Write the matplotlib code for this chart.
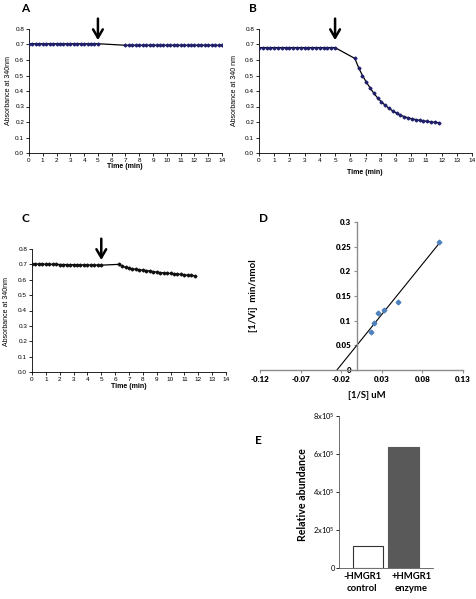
import numpy as np
import matplotlib
matplotlib.use("Agg")
import matplotlib.pyplot as plt
import matplotlib.transforms as mtransforms

W, H = 477, 599

# ---- data ----
t_pre = [0.0, 0.25, 0.5, 0.75, 1.0, 1.25, 1.5, 1.75, 2.0, 2.25, 2.5, 2.75,
         3.0, 3.25, 3.5, 3.75, 4.0, 4.25, 4.5, 4.75, 5.0]

# panel A
a_pre = [0.705, 0.705, 0.705, 0.705, 0.705, 0.705, 0.705, 0.705, 0.705, 0.705, 0.705,
         0.705, 0.705, 0.705, 0.705, 0.705, 0.705, 0.705, 0.705, 0.705, 0.705]
a_t_post = [7.0, 7.25, 7.5, 7.75, 8.0, 8.25, 8.5, 8.75, 9.0, 9.25, 9.5, 9.75, 10.0,
            10.25, 10.5, 10.75, 11.0, 11.25, 11.5, 11.75, 12.0, 12.25, 12.5, 12.75,
            13.0, 13.25, 13.5, 13.75, 14.0]
a_post = [0.695, 0.695, 0.695, 0.695, 0.695, 0.695, 0.695, 0.695, 0.695, 0.695,
          0.695, 0.695, 0.695, 0.695, 0.695, 0.695, 0.695, 0.695, 0.695, 0.695,
          0.695, 0.695, 0.695, 0.695, 0.695, 0.695, 0.695, 0.695, 0.695]

# panel B
b_pre = [0.68, 0.68, 0.68, 0.68, 0.68, 0.68, 0.68, 0.68, 0.68, 0.68, 0.68,
         0.68, 0.68, 0.68, 0.68, 0.68, 0.68, 0.68, 0.68, 0.68, 0.68]
b_t_post = [6.3, 6.55, 6.8, 7.05, 7.3, 7.55, 7.8, 8.05, 8.3, 8.55, 8.8, 9.05,
            9.3, 9.55, 9.8, 10.05, 10.3, 10.55, 10.8, 11.05, 11.3, 11.55, 11.8]
b_post = [0.61, 0.55, 0.50, 0.458, 0.42, 0.385, 0.355, 0.33, 0.307, 0.288, 0.271,
          0.256, 0.244, 0.235, 0.227, 0.221, 0.216, 0.211, 0.207, 0.204, 0.201,
          0.198, 0.196]

# panel C
c_pre = [0.703, 0.703, 0.702, 0.702, 0.701, 0.701, 0.700, 0.700, 0.699, 0.699, 0.699,
         0.698, 0.698, 0.698, 0.697, 0.697, 0.697, 0.696, 0.696, 0.696, 0.695]
c_t_post = [6.25, 6.5, 6.75, 7.0, 7.25, 7.5, 7.75, 8.0, 8.25, 8.5, 8.75, 9.0,
            9.25, 9.5, 9.75, 10.0, 10.25, 10.5, 10.75, 11.0, 11.25, 11.5, 11.75]
c_post = [0.70, 0.69, 0.68, 0.675, 0.672, 0.668, 0.665, 0.662, 0.66, 0.657, 0.653,
          0.65, 0.647, 0.645, 0.643, 0.641, 0.639, 0.637, 0.635, 0.632, 0.63,
          0.628, 0.626]

# panel D (Lineweaver-Burk)
inv_s = [0.0163, 0.02, 0.025, 0.033, 0.05, 0.1]
inv_v = [0.078, 0.095, 0.116, 0.121, 0.137, 0.26]

# panel E
e_labels = ["-HMGR1\ncontrol", "+HMGR1\nenzyme"]
e_values = [1.17e5, 6.35e5]
e_colors = ["white", "#595959"]

plt.rcParams["mathtext.default"] = "regular"


def frac(x, y):
    return x / W, 1 - y / H


def axes_px(left, top, right, bottom):
    return fig.add_axes([left / W, 1 - bottom / H, (right - left) / W, (bottom - top) / H])


fig = plt.figure(figsize=(W / 100, H / 100), dpi=100)

arial = "Liberation Sans"
cal = "Lato"


def kinetic(ax, tp, yp, tq, yq, mcolor):
    t = list(tp) + list(tq)
    y = list(yp) + list(yq)
    ax.plot(t, y, color="black", linewidth=0.9, zorder=2)
    ax.plot(t, y, linestyle="none", marker="D", markersize=1.5,
            color=mcolor, zorder=3)
    ax.set_xlim(0, 14)
    ax.set_ylim(0, 0.8)
    ax.set_xticks(range(0, 15))
    ax.set_yticks(np.arange(0, 0.81, 0.1))
    ax.set_yticklabels(["%.1f" % v for v in np.arange(0, 0.81, 0.1)])
    for s in ["top", "right"]:
        ax.spines[s].set_visible(False)
    for s in ["left", "bottom"]:
        ax.spines[s].set_linewidth(0.6)
    ax.tick_params(labelsize=4.6, length=2, width=0.6, pad=1.5)
    for lab in ax.get_xticklabels() + ax.get_yticklabels():
        lab.set_family(arial)
    ax.annotate("", xy=(5, 0.71), xytext=(5, 0.885), annotation_clip=False,
                arrowprops=dict(arrowstyle="->,head_width=0.35,head_length=0.6",
                                lw=1.8, color="black"))


# A
axA = axes_px(29, 29, 222, 153)
kinetic(axA, t_pre, a_pre, a_t_post, a_post, "#1f1f6b")
fig.text(*frac(125, 166), "Time (min)", ha="center", va="center", fontsize=5,
         family=arial, fontweight="bold")
fig.text(*frac(9, 90), "Absorbance at 340nm", ha="center", va="center", fontsize=5,
         family=arial, rotation=90)
fig.text(*frac(25, 8), "A", ha="center", va="center", fontsize=8.5,
         family=cal, fontweight="bold")

# B
axB = axes_px(259, 29, 472, 153)
kinetic(axB, t_pre, b_pre, b_t_post, b_post, "#1f1f6b")
fig.text(*frac(365, 172), "Time (min)", ha="center", va="center", fontsize=5,
         family=arial, fontweight="bold")
fig.text(*frac(235, 90), "Absorbance at 340 nm", ha="center", va="center", fontsize=5,
         family=arial, rotation=90)
fig.text(*frac(253, 8), "B", ha="center", va="center", fontsize=8.5,
         family=cal, fontweight="bold")

# C
axC = axes_px(32, 249, 226, 372)
kinetic(axC, t_pre, c_pre, c_t_post, c_post, "#111111")
fig.text(*frac(129, 387), "Time (min)", ha="center", va="center", fontsize=5,
         family=arial, fontweight="bold")
fig.text(*frac(7, 311), "Absorbance at 340nm", ha="center", va="center", fontsize=5,
         family=arial, rotation=90)
fig.text(*frac(25, 219), "C", ha="center", va="center", fontsize=8.5,
         family=cal, fontweight="bold")

# D
axD = axes_px(260, 222, 463, 370)
slope, icpt = np.polyfit(inv_s, inv_v, 1)
x_fit = np.array([-icpt / slope, max(inv_s)])
axD.plot(x_fit, slope * x_fit + icpt, color="black", linewidth=0.8, zorder=2)
axD.plot(inv_s, inv_v, linestyle="none", marker="D", markersize=2.4,
         color="#4f81bd", zorder=3)
axD.set_xlim(-0.12, 0.13)
axD.set_ylim(0, 0.3)
axD.set_xticks([-0.12, -0.07, -0.02, 0.03, 0.08, 0.13])
axD.set_xticklabels(["-0.12", "-0.07", "-0.02", "0.03", "0.08", "0.13"])
axD.set_yticks([0, 0.05, 0.1, 0.15, 0.2, 0.25, 0.3])
axD.set_yticklabels(["0", "0.05", "0.1", "0.15", "0.2", "0.25", "0.3"])
axD.spines["left"].set_position(("data", 0))
for s in ["top", "right"]:
    axD.spines[s].set_visible(False)
for s in ["left", "bottom"]:
    axD.spines[s].set_color("#8c8c8c")
    axD.spines[s].set_linewidth(1.0)
axD.tick_params(labelsize=5.8, length=2.5, width=0.8, color="#8c8c8c", pad=2)
for lab in axD.get_xticklabels() + axD.get_yticklabels():
    lab.set_family(cal)
    lab.set_fontweight("heavy")
fig.text(*frac(367, 395), "[1/S] uM", ha="center", va="center", fontsize=6.8,
         family=cal, fontweight="bold")
fig.text(*frac(254, 296), "[1/Vi]  min/nmol", ha="center", va="center", fontsize=7,
         family=cal, fontweight="bold", rotation=90)
fig.text(*frac(264, 218), "D", ha="center", va="center", fontsize=8.5,
         family=cal, fontweight="bold")

# E
axE = axes_px(339, 416, 433, 568)
axE.bar([0, 1], e_values, width=0.85, color=e_colors, edgecolor=["#333333", "#595959"],
        linewidth=0.8)
axE.set_xlim(-0.82, 1.83)
axE.set_ylim(0, 8e5)
axE.set_yticks([0, 2e5, 4e5, 6e5, 8e5])
axE.set_yticklabels(["0", "2x10$^5$", "4x10$^5$", "6x10$^5$", "8x10$^5$"])
axE.set_xticks([0, 1])
axE.set_xticklabels(e_labels)
for s in ["top", "right"]:
    axE.spines[s].set_visible(False)
for s in ["left", "bottom"]:
    axE.spines[s].set_linewidth(0.6)
    axE.spines[s].set_color("#555555")
axE.tick_params(axis="y", labelsize=5.4, length=2, width=0.6, pad=1)
axE.tick_params(axis="x", length=0, pad=3)
for lab in axE.get_yticklabels():
    lab.set_family(cal)
for lab, dx in zip(axE.get_xticklabels(), [-6, 8]):
    lab.set_family(cal)
    lab.set_fontweight("bold")
    lab.set_fontsize(6.8)
    lab.set_linespacing(1.35)
    lab.set_transform(lab.get_transform() +
                      mtransforms.ScaledTranslation(dx / 100, 0, fig.dpi_scale_trans))
fig.text(*frac(303, 495), "Relative abundance", ha="center", va="center", fontsize=7.7,
         family=cal, fontweight="bold", rotation=90)
fig.text(*frac(258, 440), "E", ha="center", va="center", fontsize=8.5,
         family=cal, fontweight="bold")

fig.savefig("out.png", dpi=100)
